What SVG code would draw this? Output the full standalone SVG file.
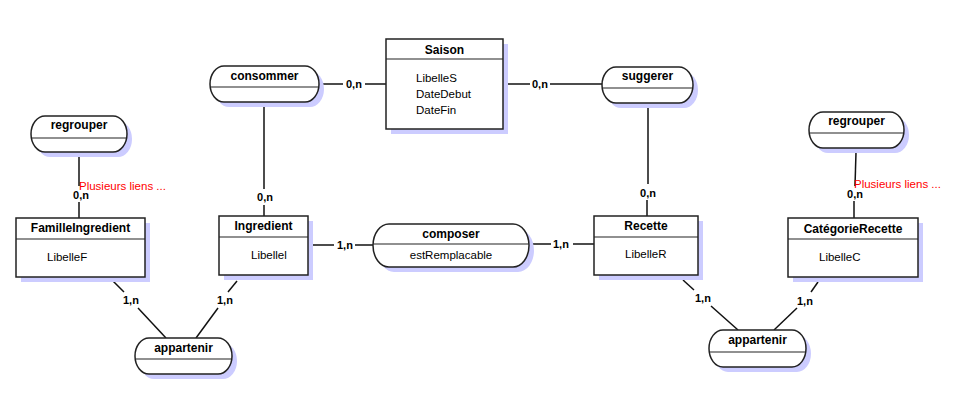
<svg xmlns="http://www.w3.org/2000/svg" width="961" height="407" viewBox="0 0 961 407">
<style>
.sh{fill:#ccccff;stroke:none}
.bx{fill:#fff;stroke:#222;stroke-width:1.5}
.dv{stroke:#222;stroke-width:1.2}
.t{font-family:"Liberation Sans",Arial,sans-serif;font-size:12px;font-weight:bold;fill:#000;text-anchor:middle}
.a{font-family:"Liberation Sans",Arial,sans-serif;font-size:11.5px;fill:#000}
.ac{font-family:"Liberation Sans",Arial,sans-serif;font-size:11.5px;fill:#000;text-anchor:middle}
.c{font-family:"Liberation Sans",Arial,sans-serif;font-size:11px;font-weight:bold;fill:#000}
.cm{font-family:"Liberation Sans",Arial,sans-serif;font-size:11px;font-weight:bold;fill:#000;text-anchor:middle}
.r{font-family:"Liberation Sans",Arial,sans-serif;font-size:11.5px;fill:#ff0000}
.ln{stroke:#111;stroke-width:1.5;fill:none}
</style>
<rect width="961" height="407" fill="#fff"/>
<g id="connectors">
<line class="ln" x1="320" y1="84" x2="343" y2="84"/><line class="ln" x1="365" y1="84" x2="386" y2="84"/><text class="c" x="346" y="88">0,n</text>
<line class="ln" x1="503" y1="84" x2="530" y2="84"/><line class="ln" x1="550" y1="84" x2="602" y2="84"/><text class="c" x="532" y="88">0,n</text>
<line class="ln" x1="264" y1="106" x2="264" y2="189"/><line class="ln" x1="264" y1="205" x2="264" y2="216"/><text class="cm" x="265" y="201">0,n</text>
<line class="ln" x1="648" y1="107" x2="648" y2="184"/><line class="ln" x1="647" y1="200" x2="647" y2="216"/><text class="cm" x="648" y="197">0,n</text>
<line class="ln" x1="79" y1="156" x2="79" y2="186"/><line class="ln" x1="79" y1="202" x2="79" y2="218"/><text class="cm" x="81" y="199">0,n</text><text class="r" x="79" y="190">Plusieurs liens ...</text>
<line class="ln" x1="856" y1="152" x2="855" y2="186"/><line class="ln" x1="854" y1="201" x2="854" y2="218"/><text class="cm" x="855" y="198">0,n</text><text class="r" x="854" y="188">Plusieurs liens ...</text>
<line class="ln" x1="310" y1="245" x2="334" y2="245"/><line class="ln" x1="355" y1="245" x2="373" y2="245"/><text class="c" x="337" y="249">1,n</text>
<line class="ln" x1="529" y1="244" x2="551" y2="244"/><line class="ln" x1="573" y1="244" x2="594" y2="244"/><text class="c" x="553" y="248">1,n</text>
<line class="ln" x1="113" y1="281" x2="124" y2="292"/><line class="ln" x1="138" y1="308" x2="166" y2="338"/><text class="c" x="123" y="304">1,n</text>
<line class="ln" x1="237" y1="281" x2="228" y2="292"/><line class="ln" x1="218" y1="308" x2="196" y2="338"/><text class="c" x="217" y="304">1,n</text>
<line class="ln" x1="683" y1="280" x2="694" y2="290"/><line class="ln" x1="711" y1="306" x2="738" y2="330"/><text class="c" x="695" y="302">1,n</text>
<line class="ln" x1="818" y1="282" x2="811" y2="292"/><line class="ln" x1="797" y1="308" x2="774" y2="330"/><text class="c" x="797" y="305">1,n</text>
</g>
<g id="Saison">
<rect class="sh" x="391" y="44" width="117" height="90"/>
<rect class="bx" x="386" y="39" width="117" height="90"/>
<line class="dv" x1="386" y1="59" x2="503" y2="59"/>
<text class="t" x="444.5" y="54">Saison</text>
<text class="a" x="416" y="82">LibelleS</text>
<text class="a" x="416" y="98">DateDebut</text>
<text class="a" x="416" y="114">DateFin</text>
</g>
<g id="FamilleIngredient">
<rect class="sh" x="21" y="223" width="129" height="59"/>
<rect class="bx" x="16" y="218" width="129" height="59"/>
<line class="dv" x1="16" y1="239" x2="145" y2="239"/>
<text class="t" x="80.5" y="232">FamilleIngredient</text>
<text class="a" x="47" y="261">LibelleF</text>
</g>
<g id="Ingredient">
<rect class="sh" x="224" y="221" width="89" height="59"/>
<rect class="bx" x="219" y="216" width="89" height="59"/>
<line class="dv" x1="219" y1="237" x2="308" y2="237"/>
<text class="t" x="263.5" y="230">Ingredient</text>
<text class="a" x="251" y="259">Libellel</text>
</g>
<g id="Recette">
<rect class="sh" x="599" y="221" width="104" height="59"/>
<rect class="bx" x="594" y="216" width="104" height="59"/>
<line class="dv" x1="594" y1="237" x2="698" y2="237"/>
<text class="t" x="646" y="230">Recette</text>
<text class="a" x="625" y="258">LibelleR</text>
</g>
<g id="CategorieRecette">
<rect class="sh" x="793" y="223" width="130" height="59"/>
<rect class="bx" x="788" y="218" width="130" height="59"/>
<line class="dv" x1="788" y1="239" x2="918" y2="239"/>
<text class="t" x="853" y="233">CatégorieRecette</text>
<text class="a" x="819" y="261">LibelleC</text>
</g>
<g id="consommer">
<rect class="sh" x="215" y="71" width="109" height="36" rx="14" ry="18"/>
<rect class="bx" x="210" y="66" width="109" height="36" rx="14" ry="18"/>
<line class="dv" x1="210.5" y1="87" x2="318.5" y2="87"/>
<text class="t" x="264.5" y="80">consommer</text>
</g>
<g id="suggerer">
<rect class="sh" x="607" y="72" width="91" height="36" rx="14" ry="18"/>
<rect class="bx" x="602" y="67" width="91" height="36" rx="14" ry="18"/>
<line class="dv" x1="602.5" y1="88" x2="692.5" y2="88"/>
<text class="t" x="647.5" y="80">suggerer</text>
</g>
<g id="regrouper1">
<rect class="sh" x="36" y="121" width="96" height="36" rx="14" ry="18"/>
<rect class="bx" x="31" y="116" width="96" height="36" rx="14" ry="18"/>
<line class="dv" x1="31.5" y1="138" x2="126.5" y2="138"/>
<text class="t" x="79" y="129">regrouper</text>
</g>
<g id="regrouper2">
<rect class="sh" x="814" y="117" width="95" height="36" rx="14" ry="18"/>
<rect class="bx" x="809" y="112" width="95" height="36" rx="14" ry="18"/>
<line class="dv" x1="809.5" y1="133" x2="903.5" y2="133"/>
<text class="t" x="856.5" y="125">regrouper</text>
</g>
<g id="composer">
<rect class="sh" x="378" y="229" width="156" height="43" rx="16" ry="21.5"/>
<rect class="bx" x="373" y="224" width="156" height="43" rx="16" ry="21.5"/>
<line class="dv" x1="373.5" y1="244" x2="528.5" y2="244"/>
<text class="t" x="451" y="238">composer</text>
<text class="ac" x="451" y="259">estRemplacable</text>
</g>
<g id="appartenir1">
<rect class="sh" x="140" y="343" width="97" height="36" rx="14" ry="18"/>
<rect class="bx" x="135" y="338" width="97" height="36" rx="14" ry="18"/>
<line class="dv" x1="135.5" y1="359" x2="231.5" y2="359"/>
<text class="t" x="183.5" y="352">appartenir</text>
</g>
<g id="appartenir2">
<rect class="sh" x="714" y="335" width="97" height="37" rx="14" ry="18.5"/>
<rect class="bx" x="709" y="330" width="97" height="37" rx="14" ry="18.5"/>
<line class="dv" x1="709.5" y1="352" x2="805.5" y2="352"/>
<text class="t" x="757.5" y="344">appartenir</text>
</g>
</svg>
